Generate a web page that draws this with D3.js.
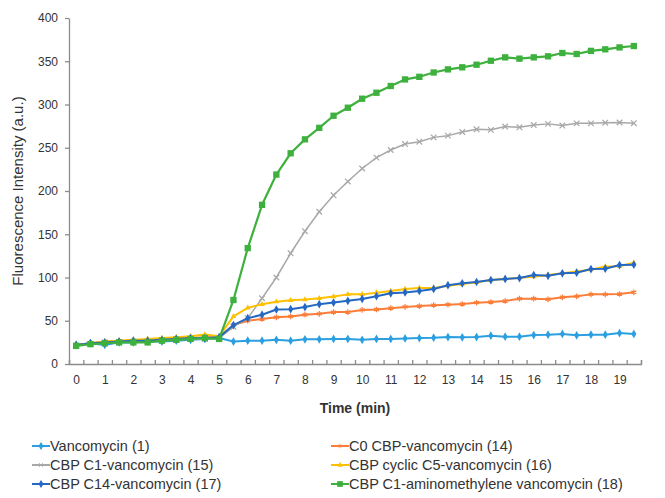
<!DOCTYPE html>
<head>
    <style>
        body { margin: 0; background: #fff; }
        text { font-family: "Liberation Sans", Arial, sans-serif; fill: #333; }
        .axis path, .axis line { stroke: #8c8c8c; stroke-width: 1.3; }
        .axis text { font-size: 12px; fill: #333; }
        .legend text { font-size: 14.5px; }
    </style>
    <script src="https://d3js.org/d3.v7.min.js"></script>
</head>
<body>
    <svg width="665" height="498"></svg>
    <script>
        // time points (min), one every 0.5 min
        var times = [0, 0.5, 1, 1.5, 2, 2.5, 3, 3.5, 4, 4.5, 5, 5.5, 6, 6.5, 7, 7.5, 8, 8.5, 9, 9.5,
                     10, 10.5, 11, 11.5, 12, 12.5, 13, 13.5, 14, 14.5, 15, 15.5, 16, 16.5, 17, 17.5, 18, 18.5, 19, 19.5];
        var xLabels = [0, 1, 2, 3, 4, 5, 6, 7, 8, 9, 10, 11, 12, 13, 14, 15, 16, 17, 18, 19];
        var yTicks = [0, 50, 100, 150, 200, 250, 300, 350, 400];

        var vanco = [22, 24, 22, 25, 25, 26, 26, 27, 28, 29, 30,
                     26, 27, 27, 28, 27, 28.5, 28.5, 29, 29, 28, 29, 29, 29.5, 30,
                     30.4, 31.2, 30.8, 31.2, 32.7, 31.6, 31.6, 33.5, 33.9, 34.7, 33.1, 33.9, 33.9, 35.8, 34.7];
        var c0 = [22, 24, 26, 27, 27, 28, 29, 30, 30, 31, 31,
                  45, 50, 52, 54, 55, 57, 58, 60, 60, 62.5, 63, 64.5, 66,
                  67, 68, 68.6, 69.4, 70.9, 71.7, 72.8, 75.5, 75.5, 74.8, 77.1, 78.2, 80.5, 80.5, 80.9, 82.9];
        var c1 = [21, 23, 25, 25, 26, 26, 27, 28, 29, 29, 30, 43,
                  53, 76, 100, 128, 153.5, 176, 195, 211,
                  226, 238.6, 247.4, 254.3, 257, 262, 264, 268.2, 271.3, 270.7,
                  274.5, 273.6, 276.2, 277.6, 275.7, 278.2, 278.2, 279, 279.2, 278.4];
        var c5 = [22, 24, 26, 27, 28, 29, 30, 31, 32, 34, 32,
                  55, 65, 69, 72, 73.6, 74.5, 76, 78, 80.5, 80.5, 82.5, 84.4, 86.7,
                  88, 88, 90.5, 92.5, 94.5, 97, 98.3, 99.8, 101, 103, 105, 107, 109, 112.8, 113, 117];
        var c14 = [22, 24, 25, 26, 27, 27, 28, 29, 30, 30, 31,
                   45, 53, 57, 63, 63.4, 65.8, 69.2, 71, 73, 75.2, 78.4, 81.7, 82.7,
                   84.5, 86.8, 91.1, 93.3, 94.8, 97, 98.3, 99.4, 102.9, 102, 104.8, 105.6, 109.8, 110.2, 114.4, 114.8];
        var amino = [21, 23, 24, 25, 25, 25, 27, 28, 29, 30, 29,
                     74, 134, 184, 219, 243.6, 259.7, 273, 287, 296.3,
                     306.7, 313.6, 321.4, 329, 332, 337, 340.6, 343, 346, 350.6,
                     354.5, 353, 354.5, 355.7, 359.5, 358.4, 362, 363.8, 366, 367.6];

        var names = ["Vancomycin (1)", "C0 CBP-vancomycin (14)", "CBP C1-vancomycin (15)",
                     "CBP cyclic C5-vancomycin (16)", "CBP C14-vancomycin (17)", "CBP C1-aminomethylene vancomycin (18)"];
        var colors = ["#2b9fe0", "#fb7d38", "#a8a8a8", "#ffc000", "#2468c4", "#3db03d"];
        var symbols = [d3.symbolDiamond, d3.symbolAsterisk, d3.symbolTimes, d3.symbolTriangle, d3.symbolDiamond, d3.symbolSquare];
        var symSizes = [22, 22, 22, 14, 22, 40];
        var widths = [2, 2, 1.5, 2, 2, 2.2];
        var allSeries = [vanco, c0, c1, c5, c14, amino];

        var svg = d3.select("svg");

        var x = d3.scaleLinear().domain([-0.25, 19.75]).range([69, 641]);
        var y = d3.scaleLinear().domain([0, 400]).range([364, 18]);

        // x axis: tick marks between categories, labels on whole minutes
        var tickPos = times.map(function(t) { return t - 0.25; }).concat([19.75]);
        svg.append("g").attr("class", "axis")
           .attr("transform", "translate(0,364)")
           .call(d3.axisBottom(x).tickValues(tickPos).tickSize(-4).tickFormat(""));
        svg.append("g").attr("class", "axis")
           .attr("transform", "translate(0,364)")
           .call(d3.axisBottom(x).tickValues(xLabels).tickSize(0).tickPadding(11).tickFormat(d3.format("d")))
           .select(".domain").remove();

        svg.append("g").attr("class", "axis")
           .attr("transform", "translate(69,0)")
           .call(d3.axisLeft(y).tickValues(yTicks).tickSize(4).tickSizeOuter(0).tickPadding(7));

        // series
        var line = d3.line()
                     .x(function(d, i) { return x(times[i]); })
                     .y(function(d) { return y(d); });

        allSeries.forEach(function(s, k) {
            var g = svg.append("g");
            g.append("path")
             .attr("d", line(s))
             .attr("fill", "none")
             .attr("stroke", colors[k])
             .attr("stroke-width", widths[k])
             .attr("stroke-linejoin", "round");
            var stroked = (symbols[k] === d3.symbolAsterisk || symbols[k] === d3.symbolTimes);
            g.selectAll("path.m")
             .data(s)
             .enter().append("path")
             .attr("class", "m")
             .attr("transform", function(d, i) { return "translate(" + x(times[i]) + "," + y(d) + ")"; })
             .attr("d", d3.symbol().type(symbols[k]).size(symSizes[k]))
             .attr("fill", stroked ? "none" : colors[k])
             .attr("stroke", stroked ? colors[k] : "none")
             .attr("stroke-width", 1.2);
        });

        // axis titles
        svg.append("text")
           .attr("transform", "translate(23,191) rotate(-90)")
           .attr("text-anchor", "middle")
           .style("font-size", "15px")
           .text("Fluorescence Intensity (a.u.)");

        svg.append("text")
           .attr("x", 355).attr("y", 413)
           .attr("text-anchor", "middle")
           .style("font-size", "14px")
           .style("font-weight", "bold")
           .text("Time (min)");

        // legend, two columns
        var legend = svg.append("g").attr("class", "legend");
        names.forEach(function(n, k) {
            var col = k % 2, row = Math.floor(k / 2);
            var lx = col === 0 ? 32 : 331;
            var ly = 446 + row * 19;
            var item = legend.append("g").attr("transform", "translate(" + lx + "," + ly + ")");
            item.append("line")
                .attr("x1", 0).attr("x2", 18)
                .attr("stroke", colors[k]).attr("stroke-width", 2);
            item.append("path")
                .attr("transform", "translate(9,0)")
                .attr("d", d3.symbol().type(symbols[k]).size(symSizes[k] * 0.6))
                .attr("fill", colors[k]).attr("stroke", colors[k]).attr("stroke-width", 0.8);
            item.append("text")
                .attr("x", 18).attr("y", 5)
                .text(n);
        });
    </script>
</body>
</html>
